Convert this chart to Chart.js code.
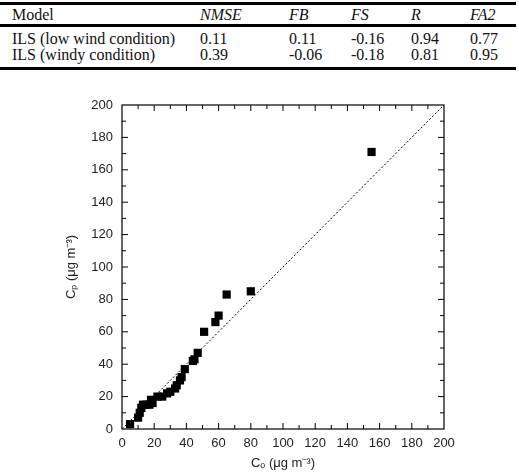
<!DOCTYPE html>
<html>
<head>
<meta charset="utf-8">
<script src="https://cdn.jsdelivr.net/npm/chart.js@4/dist/chart.umd.min.js"></script>
<style>
  html, body { margin: 0; padding: 0; background: #fff; }
  body { width: 519px; height: 476px; position: relative; overflow: hidden; }
  .rule { position: absolute; left: 0; width: 516px; height: 3px; background: #000; }
  .cell { position: absolute; font-family: "Liberation Serif", "Times New Roman", serif; font-size: 16px; line-height: 18px; color: #111; white-space: nowrap; }
  .it { font-style: italic; }
  #wrap { position: absolute; left: 0; top: 80px; width: 519px; height: 396px; }
</style>
</head>
<body>
<div id="table"></div>
<div id="wrap"><canvas id="chart"></canvas></div>
<script>
// table of model statistics
const tableHeader = ['Model', 'NMSE', 'FB', 'FS', 'R', 'FA2'];
const tableRows = [
  ['ILS (low wind condition)', '0.11', '0.11', '-0.16', '0.94', '0.77'],
  ['ILS (windy condition)', '0.39', '-0.06', '-0.18', '0.81', '0.95']
];

// observed (Co) vs predicted (Cp), µg m-3
const observed = [5, 10, 11, 12, 13, 15, 17, 18, 19, 22, 25, 28, 30, 33, 34, 36, 37, 39, 44, 45, 47, 51, 58, 60, 65, 80, 155];
const predicted = [3, 7, 10, 13, 15, 15, 15, 18, 16, 20, 20, 22, 23, 25, 27, 30, 32, 37, 42, 43, 47, 60, 66, 70, 83, 85, 171];
const oneToOne = [0, 200];

// table layout
const colX = [12, 200, 289, 351, 411, 470];
const rowTop = [5.5, 29.5, 45.5];
const ruleY = [2, 24, 67];

const tbl = document.getElementById('table');
ruleY.forEach((y) => {
  const d = document.createElement('div');
  d.className = 'rule';
  d.style.top = y + 'px';
  tbl.appendChild(d);
});
[tableHeader, ...tableRows].forEach((row, r) => {
  row.forEach((txt, c) => {
    const d = document.createElement('div');
    d.className = 'cell' + (r === 0 && c > 0 ? ' it' : '');
    d.style.left = colX[c] + 'px';
    d.style.top = rowTop[r] + 'px';
    d.textContent = txt;
    tbl.appendChild(d);
  });
});

// frame + inward ticks on all four sides
const frameTicks = {
  id: 'frameTicks',
  afterDraw(chart) {
    const { ctx, chartArea: a, scales } = chart;
    ctx.save();
    ctx.strokeStyle = '#000';
    ctx.lineWidth = 1.2;
    ctx.strokeRect(a.left, a.top, a.right - a.left, a.bottom - a.top);
    ctx.lineWidth = 1;
    ctx.beginPath();
    for (let v = 10; v < 200; v += 10) {
      const len = v % 20 === 0 ? 6 : 4;
      const px = scales.x.getPixelForValue(v);
      const py = scales.y.getPixelForValue(v);
      ctx.moveTo(px, a.bottom); ctx.lineTo(px, a.bottom - len);
      ctx.moveTo(px, a.top); ctx.lineTo(px, a.top + len);
      ctx.moveTo(a.left, py); ctx.lineTo(a.left + len, py);
      ctx.moveTo(a.right, py); ctx.lineTo(a.right - len, py);
    }
    ctx.stroke();
    ctx.restore();
  }
};

const tickFont = { family: 'Liberation Sans, Arial, sans-serif', size: 13 };

new Chart(document.getElementById('chart'), {
  type: 'scatter',
  data: {
    datasets: [
      {
        label: '1:1',
        type: 'line',
        data: oneToOne.map((v) => ({ x: v, y: v })),
        borderColor: '#000',
        borderWidth: 1,
        borderDash: [2, 2],
        pointRadius: 0,
        fill: false
      },
      {
        label: 'ILS',
        data: observed.map((x, i) => ({ x, y: predicted[i] })),
        pointStyle: 'rect',
        pointRadius: 5.8,
        backgroundColor: '#000',
        borderColor: '#000',
        borderWidth: 0
      }
    ]
  },
  options: {
    responsive: true,
    maintainAspectRatio: false,
    animation: false,
    layout: { padding: { left: 0, top: 25, right: 75, bottom: 0 } },
    plugins: { legend: { display: false }, tooltip: { enabled: false } },
    scales: {
      x: {
        type: 'linear',
        min: 0,
        max: 200,
        afterFit: (s) => { s.height = 47; },
        grid: { display: false, drawTicks: false },
        border: { display: false },
        ticks: { stepSize: 20, padding: 7, color: '#222', font: tickFont },
        title: { display: true, text: 'Cₒ (μg m⁻³)', color: '#222', font: tickFont, padding: { top: 0, bottom: 5 } }
      },
      y: {
        type: 'linear',
        min: 0,
        max: 200,
        afterFit: (s) => { s.width = 122; },
        grid: { display: false, drawTicks: false },
        border: { display: false },
        ticks: { stepSize: 20, padding: 9, color: '#222', font: tickFont },
        title: { display: true, text: 'Cₚ (μg m⁻³)', color: '#222', font: tickFont, padding: { top: 64, bottom: 0 } }
      }
    }
  },
  plugins: [frameTicks]
});
</script>
</body>
</html>
